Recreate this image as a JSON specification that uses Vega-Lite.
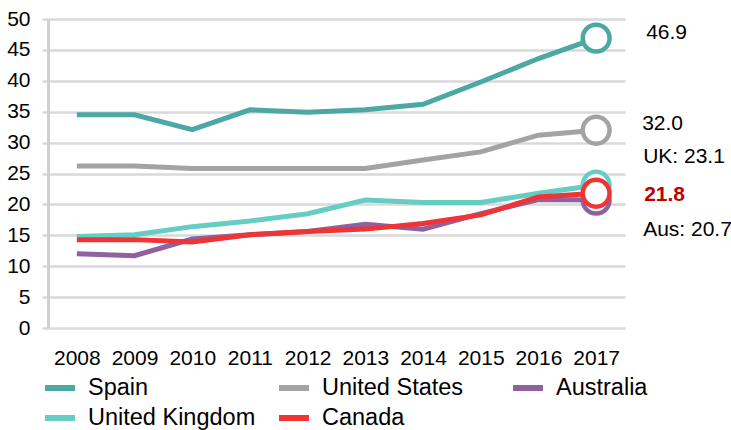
{
  "$schema": "https://vega.github.io/schema/vega-lite/v6.json",
  "width": 577,
  "height": 309,
  "autosize": "none",
  "padding": {"left": 48, "top": 19, "right": 106, "bottom": 102},
  "background": "white",
  "config": {"view": {"stroke": null}, "font": "Liberation Sans"},
  "data": {"values": [
    {"country": "Spain", "year": "2008", "value": 34.5},
    {"country": "Spain", "year": "2009", "value": 34.5},
    {"country": "Spain", "year": "2010", "value": 32.1},
    {"country": "Spain", "year": "2011", "value": 35.3},
    {"country": "Spain", "year": "2012", "value": 34.9},
    {"country": "Spain", "year": "2013", "value": 35.3},
    {"country": "Spain", "year": "2014", "value": 36.2},
    {"country": "Spain", "year": "2015", "value": 39.8},
    {"country": "Spain", "year": "2016", "value": 43.6},
    {"country": "Spain", "year": "2017", "value": 46.9, "label": "46.9"},
    {"country": "United States", "year": "2008", "value": 26.2},
    {"country": "United States", "year": "2009", "value": 26.2},
    {"country": "United States", "year": "2010", "value": 25.8},
    {"country": "United States", "year": "2011", "value": 25.8},
    {"country": "United States", "year": "2012", "value": 25.8},
    {"country": "United States", "year": "2013", "value": 25.8},
    {"country": "United States", "year": "2014", "value": 27.2},
    {"country": "United States", "year": "2015", "value": 28.5},
    {"country": "United States", "year": "2016", "value": 31.2},
    {"country": "United States", "year": "2017", "value": 32.0, "label": "32.0"},
    {"country": "Australia", "year": "2008", "value": 12.0},
    {"country": "Australia", "year": "2009", "value": 11.7},
    {"country": "Australia", "year": "2010", "value": 14.4},
    {"country": "Australia", "year": "2011", "value": 15.1},
    {"country": "Australia", "year": "2012", "value": 15.6},
    {"country": "Australia", "year": "2013", "value": 16.8},
    {"country": "Australia", "year": "2014", "value": 16.0},
    {"country": "Australia", "year": "2015", "value": 18.5},
    {"country": "Australia", "year": "2016", "value": 20.8},
    {"country": "Australia", "year": "2017", "value": 20.7, "label": "Aus: 20.7"},
    {"country": "United Kingdom", "year": "2008", "value": 14.8},
    {"country": "United Kingdom", "year": "2009", "value": 15.1},
    {"country": "United Kingdom", "year": "2010", "value": 16.4},
    {"country": "United Kingdom", "year": "2011", "value": 17.3},
    {"country": "United Kingdom", "year": "2012", "value": 18.5},
    {"country": "United Kingdom", "year": "2013", "value": 20.7},
    {"country": "United Kingdom", "year": "2014", "value": 20.3},
    {"country": "United Kingdom", "year": "2015", "value": 20.3},
    {"country": "United Kingdom", "year": "2016", "value": 21.8},
    {"country": "United Kingdom", "year": "2017", "value": 23.1, "label": "UK: 23.1"},
    {"country": "Canada", "year": "2008", "value": 14.3},
    {"country": "Canada", "year": "2009", "value": 14.3},
    {"country": "Canada", "year": "2010", "value": 13.9},
    {"country": "Canada", "year": "2011", "value": 15.1},
    {"country": "Canada", "year": "2012", "value": 15.6},
    {"country": "Canada", "year": "2013", "value": 16.0},
    {"country": "Canada", "year": "2014", "value": 16.9},
    {"country": "Canada", "year": "2015", "value": 18.3},
    {"country": "Canada", "year": "2016", "value": 21.2},
    {"country": "Canada", "year": "2017", "value": 21.8, "label": "21.8"}
  ]},
  "encoding": {
    "x": {
      "field": "year", "type": "ordinal",
      "scale": {"type": "point", "padding": 0.5},
      "axis": {"title": null, "domain": false, "ticks": false, "tickSize": 0, "grid": false,
               "labelAngle": 0, "labelFont": "Liberation Sans", "labelFontSize": 21,
               "labelColor": "#000000", "labelPadding": 19}
    },
    "y": {
      "field": "value", "type": "quantitative",
      "scale": {"domain": [0, 50], "nice": false},
      "axis": {"title": null, "values": [0,5,10,15,20,25,30,35,40,45,50],
               "domain": true, "domainColor": "#D0D0D0", "domainWidth": 3,
               "ticks": true, "tickSize": 6, "tickColor": "#D9D9D9", "tickWidth": 2.5,
               "grid": true, "gridColor": "#D9D9D9", "gridWidth": 2.5,
               "labelFont": "Liberation Sans", "labelFontSize": 21, "labelColor": "#000000",
               "labelPadding": 12}
    }
  },
  "layer": [
    {
      "mark": {"type": "line", "strokeWidth": 5},
      "encoding": {
        "color": {
          "field": "country", "type": "nominal",
          "scale": {"domain": ["Spain", "United States", "Australia", "United Kingdom", "Canada"],
                    "range": ["#4BA8A2", "#A3A3A3", "#8E62A0", "#66CDC4", "#EE3434"]},
          "legend": {
            "title": null, "orient": "none", "legendX": -6, "legendY": 351,
            "direction": "horizontal", "columns": 3, "gridAlign": "all", "columnPadding": 11,
            "rowPadding": 0, "padding": 0,
            "symbolType": "stroke", "symbolSize": 900, "symbolStrokeWidth": 6,
            "labelFont": "Liberation Sans", "labelFontSize": 23.5, "labelColor": "#000000",
            "labelOffset": 10, "labelLimit": 300
          }
        }
      }
    },
    {
      "transform": [{"filter": "datum.year == '2017'"}],
      "mark": {"type": "point", "filled": false, "fill": "white", "fillOpacity": 1, "opacity": 1,
               "size": 720, "strokeWidth": 4.5},
      "encoding": {"color": {"field": "country", "type": "nominal"}}
    },
    {
      "transform": [{"filter": "datum.country == 'Spain' && datum.year == '2017'"}],
      "mark": {"type": "text", "align": "left", "baseline": "middle", "dx": 50, "dy": -5,
               "fontSize": 21, "font": "Liberation Sans", "color": "#000000"},
      "encoding": {"text": {"field": "label"}}
    },
    {
      "transform": [{"filter": "datum.country == 'United States' && datum.year == '2017'"}],
      "mark": {"type": "text", "align": "left", "baseline": "middle", "dx": 46, "dy": -6.5,
               "fontSize": 21, "font": "Liberation Sans", "color": "#000000"},
      "encoding": {"text": {"field": "label"}}
    },
    {
      "transform": [{"filter": "datum.country == 'United Kingdom' && datum.year == '2017'"}],
      "mark": {"type": "text", "align": "left", "baseline": "middle", "dx": 47, "dy": -28.5,
               "fontSize": 21, "font": "Liberation Sans", "color": "#000000"},
      "encoding": {"text": {"field": "label"}}
    },
    {
      "transform": [{"filter": "datum.country == 'Canada' && datum.year == '2017'"}],
      "mark": {"type": "text", "align": "left", "baseline": "middle", "dx": 48, "dy": 1.5,
               "fontSize": 21, "font": "Liberation Sans", "fontWeight": "bold", "color": "#C00000"},
      "encoding": {"text": {"field": "label"}}
    },
    {
      "transform": [{"filter": "datum.country == 'Australia' && datum.year == '2017'"}],
      "mark": {"type": "text", "align": "left", "baseline": "middle", "dx": 47, "dy": 29.5,
               "fontSize": 21, "font": "Liberation Sans", "color": "#000000"},
      "encoding": {"text": {"field": "label"}}
    }
  ]
}
